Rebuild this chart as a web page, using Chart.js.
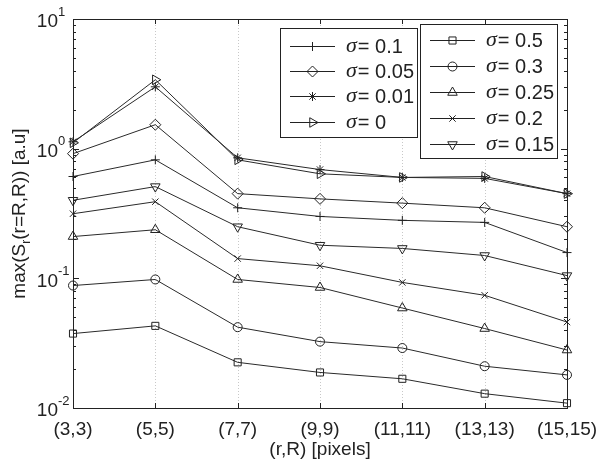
<!DOCTYPE html>
<html>
<head>
<meta charset="utf-8">
<script src="https://cdn.jsdelivr.net/npm/chart.js@4.4.1/dist/chart.umd.min.js"></script>
<style>
  html,body{margin:0;padding:0;background:#fff;}
  #wrap{width:601px;height:461px;position:relative;}
</style>
</head>
<body>
<div id="wrap"><canvas id="c" width="601" height="461"></canvas></div>
<script>
const labels = ['(3,3)','(5,5)','(7,7)','(9,9)','(11,11)','(13,13)','(15,15)'];
const sig0   = [1.11, 3.4, 0.82, 0.64, 0.60, 0.61, 0.45];
const sig001 = [1.13, 3.0, 0.85, 0.69, 0.60, 0.59, 0.45];
const sig005 = [0.915, 1.53, 0.45, 0.41, 0.38, 0.35, 0.25];
const sig01  = [0.61, 0.82, 0.35, 0.30, 0.28, 0.27, 0.158];
const sig015 = [0.40, 0.51, 0.25, 0.18, 0.17, 0.15, 0.105];
const sig02  = [0.315, 0.39, 0.142, 0.125, 0.093, 0.074, 0.046];
const sig025 = [0.21, 0.237, 0.098, 0.085, 0.059, 0.041, 0.028];
const sig03  = [0.088, 0.098, 0.042, 0.0325, 0.029, 0.021, 0.018];
const sig05  = [0.0375, 0.043, 0.0225, 0.0188, 0.0168, 0.0129, 0.0109];
const yDecades = [-2, -1, 0, 1];

const series = [
  {name:'0.1',  data:sig01,  style:'cross',    rot:0,   legend:1},
  {name:'0.05', data:sig005, style:'rectRot',  rot:0,   legend:1},
  {name:'0.01', data:sig001, style:'star',     rot:0,   legend:1},
  {name:'0',    data:sig0,   style:'triangle', rot:90,  legend:1},
  {name:'0.5',  data:sig05,  style:'rect',     rot:0,   legend:2},
  {name:'0.3',  data:sig03,  style:'circle',   rot:0,   legend:2},
  {name:'0.25', data:sig025, style:'triangle', rot:0,   legend:2},
  {name:'0.2',  data:sig02,  style:'crossRot', rot:0,   legend:2},
  {name:'0.15', data:sig015, style:'triangle', rot:180, legend:2}
];

function markerRadius(style){
  if(style==='rect') return 5;
  if(style==='circle') return 4.5;
  if(style==='star') return 4.5;
  if(style==='crossRot' || style==='cross') return 4.5;
  return 5.5;
}

function drawMarker(ctx, s, x, y){
  ctx.save();
  ctx.strokeStyle='#222'; ctx.fillStyle='rgba(0,0,0,0)'; ctx.lineWidth=1;
  Chart.helpers.drawPoint(ctx, {pointStyle:s.style, rotation:s.rot, radius:markerRadius(s.style), borderWidth:1}, x, y);
  ctx.restore();
}

const SANS = '"Liberation Sans", Arial, sans-serif';

const frame = {
  id:'frame',
  beforeDatasetsDraw(chart){
    const {ctx, chartArea:a, scales:{x}} = chart;
    ctx.save();
    ctx.strokeStyle='#c8c8c8'; ctx.lineWidth=1; ctx.setLineDash([1,2]);
    labels.forEach((l,i)=>{
      const px = Math.round(x.getPixelForValue(i))+0.5;
      ctx.beginPath(); ctx.moveTo(px,a.top); ctx.lineTo(px,a.bottom); ctx.stroke();
    });
    ctx.restore();
  },
  afterDraw(chart){
    const {ctx, chartArea:a, scales:{x,y}} = chart;
    ctx.save();
    // box
    ctx.strokeStyle='#222'; ctx.lineWidth=1;
    ctx.strokeRect(Math.round(a.left)+0.5, Math.round(a.top)+0.5, Math.round(a.right-a.left), Math.round(a.bottom-a.top));
    // x ticks top/bottom
    labels.forEach((l,i)=>{
      const px = Math.round(x.getPixelForValue(i))+0.5;
      ctx.beginPath();
      ctx.moveTo(px,a.bottom); ctx.lineTo(px,a.bottom-5);
      ctx.moveTo(px,a.top); ctx.lineTo(px,a.top+5);
      ctx.stroke();
    });
    // y ticks, major and minor
    for(let d=-2; d<1; d++){
      for(let k=1;k<10;k++){
        const py = Math.round(y.getPixelForValue(k*Math.pow(10,d)))+0.5;
        const len = k===1 ? 6 : 3;
        ctx.beginPath();
        ctx.moveTo(a.left,py); ctx.lineTo(a.left+len,py);
        ctx.moveTo(a.right,py); ctx.lineTo(a.right-len,py);
        ctx.stroke();
      }
    }
    // x labels
    ctx.fillStyle='#222';
    ctx.font='19px '+SANS;
    ctx.textAlign='center'; ctx.textBaseline='middle';
    labels.forEach((l,i)=>{ ctx.fillText(l, x.getPixelForValue(i), a.bottom+22); });
    ctx.fillText('(r,R) [pixels]', (a.left+a.right)/2, a.bottom+42);
    // y labels 10^n
    yDecades.forEach(d=>{
      const py = y.getPixelForValue(Math.pow(10,d));
      ctx.font='19px '+SANS;
      ctx.textAlign='right'; ctx.textBaseline='middle';
      ctx.fillText('10', a.left-15, py+3);
      ctx.font='13px '+SANS;
      ctx.textAlign='left';
      ctx.fillText(String(d), a.left-15, py-7);
    });
    // y title
    ctx.save();
    ctx.translate(20,(a.top+a.bottom)/2);
    ctx.rotate(-Math.PI/2);
    ctx.textBaseline='middle'; ctx.textAlign='left';
    const p1='max(S', p2='r', p3='(r=R,R)) [a.u]';
    ctx.font='19px '+SANS;
    const w1=ctx.measureText(p1).width, w3=ctx.measureText(p3).width;
    ctx.font='12px '+SANS;
    const w2=ctx.measureText(p2).width;
    let sx=-(w1+w2+w3)/2;
    ctx.font='19px '+SANS;
    ctx.fillText(p1,sx,0); sx+=w1;
    ctx.font='12px '+SANS;
    ctx.fillText(p2,sx,7); sx+=w2;
    ctx.font='19px '+SANS;
    ctx.fillText(p3,sx,0);
    ctx.restore();
    // legends
    const boxes = [
      {n:1, x:280, y:28, w:137, h:109, lx0:290, lx1:335, tx:346, ry:[46,71,96,122]},
      {n:2, x:420, y:24, w:137, h:134, lx0:430, lx1:475, tx:486, ry:[40,66,92,118,144]}
    ];
    boxes.forEach(b=>{
      ctx.fillStyle='#fff';
      ctx.fillRect(b.x,b.y,b.w,b.h);
      ctx.strokeStyle='#222'; ctx.lineWidth=1;
      ctx.strokeRect(b.x+0.5,b.y+0.5,b.w,b.h);
      series.filter(s=>s.legend===b.n).forEach((s,i)=>{
        const ry=b.ry[i]+0.5;
        ctx.strokeStyle='#222';
        ctx.beginPath(); ctx.moveTo(b.lx0,ry); ctx.lineTo(b.lx1,ry); ctx.stroke();
        drawMarker(ctx,s,(b.lx0+b.lx1)/2,ry);
        ctx.fillStyle='#222'; ctx.textAlign='left'; ctx.textBaseline='middle';
        ctx.font='italic 22px "Liberation Serif", "Times New Roman", serif';
        ctx.fillText('\u03C3', b.tx, ry);
        const sw=ctx.measureText('\u03C3').width;
        ctx.font='20px '+SANS;
        ctx.fillText('= '+s.name, b.tx+sw+1, ry+1);
      });
    });
    ctx.restore();
  }
};

new Chart(document.getElementById('c'), {
  type:'line',
  data:{
    labels: labels,
    datasets: series.map(s=>({
      label:'\u03C3 = '+s.name,
      data:s.data,
      borderColor:'#2a2a2a',
      borderWidth:1,
      pointStyle:s.style,
      pointRotation:s.rot,
      pointRadius:markerRadius(s.style),
      pointBorderColor:'#222',
      pointBackgroundColor:'rgba(0,0,0,0)',
      pointBorderWidth:1,
      tension:0,
      fill:false
    }))
  },
  options:{
    responsive:false,
    animation:false,
    events:[],
    layout:{padding:{left:0,right:34,top:19,bottom:0}},
    plugins:{legend:{display:false}, tooltip:{enabled:false}},
    scales:{
      x:{
        type:'category', offset:false,
        grid:{display:false}, border:{display:false},
        ticks:{display:false},
        afterFit(s){ s.height=53; }
      },
      y:{
        type:'logarithmic', min:0.01, max:10,
        grid:{display:false}, border:{display:false},
        ticks:{display:false},
        afterFit(s){ s.width=73; }
      }
    }
  },
  plugins:[frame]
});
</script>
</body>
</html>
